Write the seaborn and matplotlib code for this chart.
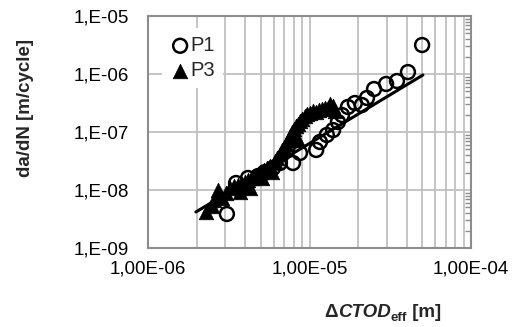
import numpy as np
import pandas as pd
import seaborn as sns
import matplotlib.pyplot as plt
from matplotlib.ticker import LogLocator, FuncFormatter, NullFormatter

# P1 (open circles)
p1_dctod = [3.08e-6, 3.51e-6, 4.16e-6, 4.80e-6, 5.30e-6, 5.94e-6, 6.56e-6, 7.90e-6,
            8.73e-6, 1.10e-5, 1.16e-5, 1.28e-5, 1.40e-5, 1.50e-5, 1.59e-5, 1.73e-5,
            1.91e-5, 2.11e-5, 2.27e-5, 2.51e-5, 2.98e-5, 3.48e-5, 4.07e-5, 4.98e-5]
p1_dadn = [3.86e-9, 1.32e-8, 1.61e-8, 1.74e-8, 2.04e-8, 2.39e-8, 2.92e-8, 2.92e-8,
           4.35e-8, 4.90e-8, 6.73e-8, 8.88e-8, 1.08e-7, 1.49e-7, 1.96e-7, 2.70e-7,
           3.16e-7, 2.92e-7, 3.86e-7, 5.51e-7, 6.73e-7, 7.57e-7, 1.08e-6, 3.16e-6]

# P3 (filled triangles)
p3_dctod = [2.29e-6, 2.49e-6, 2.56e-6, 2.71e-6, 2.87e-6, 3.04e-6, 3.22e-6, 3.41e-6,
            3.61e-6, 3.70e-6, 3.82e-6, 3.99e-6, 4.16e-6, 4.28e-6, 4.41e-6, 4.60e-6,
            4.80e-6, 5.01e-6, 5.08e-6, 5.23e-6, 5.46e-6, 5.69e-6, 5.86e-6, 6.11e-6,
            6.29e-6, 6.56e-6, 6.76e-6, 6.95e-6, 7.15e-6, 7.36e-6, 7.57e-6, 7.80e-6,
            8.01e-6, 8.24e-6, 8.49e-6, 8.50e-6, 8.73e-6, 8.99e-6, 9.37e-6, 9.66e-6,
            1.01e-5, 1.05e-5, 1.10e-5, 1.15e-5, 1.19e-5, 1.25e-5, 1.30e-5, 1.34e-5,
            1.40e-5, 1.43e-5]
p3_dadn = [4.2e-9, 5.3e-9, 6.73e-9, 1.0e-8, 7.3e-9, 8.87e-9, 1.08e-8, 1.17e-8,
           1.22e-8, 9.2e-9, 1.27e-8, 1.37e-8, 1.49e-8, 1.08e-8, 1.61e-8, 1.74e-8,
           1.89e-8, 2.04e-8, 1.61e-8, 2.21e-8, 2.39e-8, 2.59e-8, 2.04e-8, 3.16e-8,
           3.56e-8, 4.18e-8, 4.90e-8, 5.5e-8, 6.21e-8, 7.3e-8, 8.53e-8, 1.0e-7,
           1.13e-7, 1.27e-7, 1.37e-7, 7.3e-8, 1.55e-7, 1.67e-7, 1.89e-7, 2.04e-7,
           2.13e-7, 2.30e-7, 2.21e-7, 2.39e-7, 2.49e-7, 2.59e-7, 2.59e-7, 3.04e-7,
           2.81e-7, 2.30e-7]

# power-law trend line: da/dN = C * dCTOD^m
fit_range = [1.98e-6, 5.04e-5]
fit_m = 1.68
fit_C = 4.18e-9 / 1.98e-6 ** 1.68

sns.set_style("white")
plt.rcParams['font.family'] = ['Liberation Sans', 'DejaVu Sans']

p1 = pd.DataFrame({'dctod': p1_dctod, 'dadn': p1_dadn})
p3 = pd.DataFrame({'dctod': p3_dctod, 'dadn': p3_dadn})
fx = np.array(fit_range)
fit = pd.DataFrame({'dctod': fx, 'dadn': fit_C * fx ** fit_m})

fig = plt.figure(figsize=(5.2, 3.27), dpi=100)
ax = fig.add_axes([148 / 520, 1 - 248 / 327, 323 / 520, 232 / 327])

sns.scatterplot(data=p1, x='dctod', y='dadn', marker='o', s=100, fc='none',
                ec='black', linewidth=1.8, label='P1', ax=ax, zorder=3)
sns.scatterplot(data=p3, x='dctod', y='dadn', marker='^', s=110, color='black',
                ec='black', linewidth=0.5, label='P3', ax=ax, zorder=3)
sns.lineplot(data=fit, x='dctod', y='dadn', color='black', linewidth=2.2,
             ax=ax, zorder=4, legend=False)

ax.set_xscale('log')
ax.set_yscale('log')
ax.set_xlim(1e-6, 1e-4)
ax.set_ylim(1e-9, 1e-5)

ax.xaxis.set_major_locator(LogLocator(base=10))
ax.xaxis.set_minor_locator(LogLocator(base=10, subs=np.arange(2, 10)))
ax.xaxis.set_minor_formatter(NullFormatter())
ax.yaxis.set_major_locator(LogLocator(base=10))
ax.yaxis.set_minor_locator(LogLocator(base=10, subs=np.arange(2, 10)))
ax.yaxis.set_minor_formatter(NullFormatter())
ax.xaxis.set_major_formatter(FuncFormatter(lambda v, p: "1,00E-%02d" % round(-np.log10(v))))
ax.yaxis.set_major_formatter(FuncFormatter(lambda v, p: "1,E-%02d" % round(-np.log10(v))))

grid_c = '#c0c0c0'
ax.grid(True, which='major', axis='both', color=grid_c, linewidth=1.3)
ax.grid(True, which='minor', axis='x', color=grid_c, linewidth=1.3)
ax.set_axisbelow(True)

for s in ax.spines.values():
    s.set_color('#8c8c8c')
    s.set_linewidth(1.5)

ax.tick_params(axis='both', which='major', length=0, labelsize=13.5, colors='black')
ax.tick_params(axis='x', which='major', pad=9)
ax.tick_params(axis='y', which='major', pad=14)
ax.tick_params(axis='x', which='minor', length=0)
ax.tick_params(axis='y', which='minor', left=False, right=True, direction='in',
               length=4, width=1, color='#8c8c8c')

ax.set_xlabel('')
ax.set_ylabel('')

fig.text(25 / 520, 1 - 108 / 327, 'da/dN [m/cycle]', rotation=90, ha='center',
         va='center', fontsize=13.5, fontweight='bold')

# x axis title built from pieces: Δ CTOD (italic) eff (subscript) [m]
fig.canvas.draw()
rend = fig.canvas.get_renderer()
parts = [('Δ', 'normal', 13.5, 0), ('CTOD', 'italic', 13.5, 0),
         ('eff', 'normal', 9.5, -4), (' [m]', 'normal', 13.5, 0)]
texts = []
xpos = 0
for txt, sty, fs, dy in parts:
    t = fig.text(0, 0, txt, fontsize=fs, fontweight='bold', style=sty,
                 ha='left', va='baseline')
    w = t.get_window_extent(rend).width
    texts.append((t, xpos, dy))
    xpos += w
x0 = 383 - xpos / 2
base_y = 327 - 317
for t, off, dy in texts:
    t.set_position(((x0 + off) / 520, (base_y + dy) / 327))

leg = ax.legend(loc='upper left', bbox_to_anchor=(14 / 323, 1 - 12 / 232), frameon=True,
                fontsize=14.5, handletextpad=0.0, handlelength=1.0, borderpad=0.4,
                labelspacing=0.3, borderaxespad=0)
leg.get_frame().set_facecolor('white')
leg.get_frame().set_edgecolor('none')
leg.get_frame().set_alpha(1)
leg.set_zorder(5)

fig.savefig('out.png', dpi=100)
